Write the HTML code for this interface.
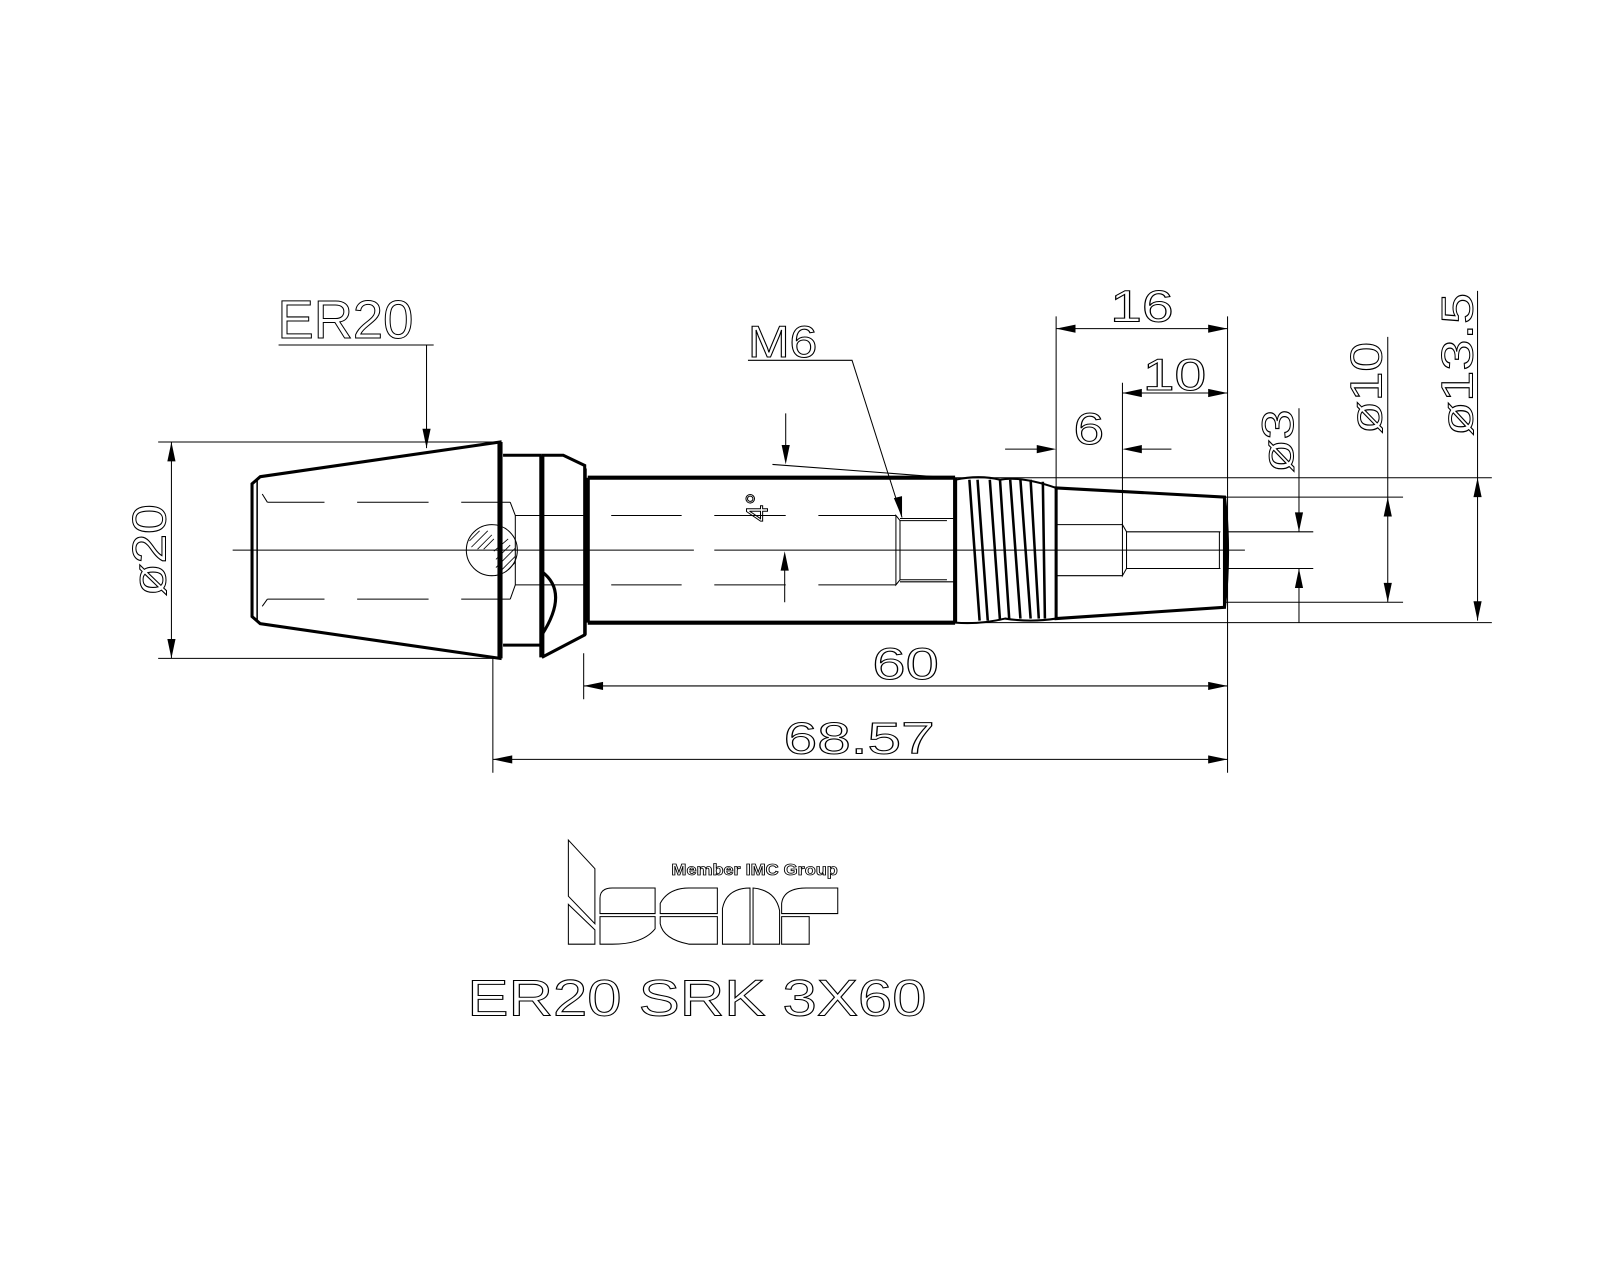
<!DOCTYPE html>
<html><head><meta charset="utf-8"><style>
html,body{margin:0;padding:0;background:#fff;}
svg{display:block;}
text{font-family:"Liberation Sans",sans-serif;}
.t{fill:none;stroke:#000;stroke-width:1;}
</style></head><body>
<svg width="1600" height="1280" viewBox="0 0 1568 1254" preserveAspectRatio="none" xmlns="http://www.w3.org/2000/svg">
<rect width="1568" height="1254" fill="#fff"/>
<g stroke="#000" fill="none">
<!-- centerline -->
<path d="M228 539 H680 M700 539 H1220" stroke-width="1"/>
<!-- cone -->
<path d="M255 467 L490 433 L490 645 L255 611 L247 604 L247 474 Z" stroke-width="3"/>
<path d="M252 470 V608" stroke-width="1.5"/>
<path d="M490 433 V645" stroke-width="5"/>
<!-- dashed in cone -->
<path d="M262 492 H318 M350 492 H420 M452 492 H500 M262 587 H318 M350 587 H420 M452 587 H500" stroke-width="1"/>
<path d="M262 492 L257 484 M262 587 L257 594 M500 492 L505 505 L505 573 L500 587" stroke-width="1"/>
<path d="M505 505 H575 M505 573 H575" stroke-width="1"/>
<!-- neck and collar -->
<path d="M493 446 H531 M493 632 H531" stroke-width="3"/>
<path d="M531 446 V644" stroke-width="5"/>
<path d="M531 446 H552 L573 456 V622 L531 644" stroke-width="3"/>
<path d="M531 560 Q558 580 531 622" stroke-width="3"/>
<path d="M574 459 V622" stroke-width="2"/>
<!-- hatched circle -->
<circle cx="482" cy="539" r="25" stroke-width="1"/>
<g stroke-width="0.8">
<path d="M460 530 L470 520 M462 536 L478 520 M468 538 L482 524 M474 538 L484 528 M484 540 L498 528 M486 548 L500 534 M486 556 L505 537 M492 558 L505 545 M496 560 L505 551"/>
</g>
<!-- shank -->
<path d="M576 468 H936 M576 610 H936 M576 468 V610" stroke-width="4"/>
<path d="M936 468 V610" stroke-width="4"/>
<!-- shank dashed lines -->
<path d="M599 505 H668 M700 505 H770 M802 505 H878 M599 573 H668 M700 573 H770 M802 573 H878" stroke-width="1"/>
<path d="M878 505 L882 510 V568 L878 573 Z" stroke-width="1"/>
<path d="M882 508 H935 M882 570 H935 M882 510 H928 M882 568 H928" stroke-width="1"/>
<!-- threads -->
<path d="M936 470 Q960 465 980 470 Q1000 466 1035 478" stroke-width="2"/>
<path d="M936 610 Q960 612 985 606 Q1010 610 1035 606" stroke-width="2"/>
<path d="M950 470 L960 608 M958 470 L968 608 M970 470 L980 608 M980 470 L989 606 M990 470 L1000 606 M1000 470 L1010 606 M1010 470 L1018 606 M1022 472 L1024 606" stroke-width="2.5"/>
<!-- taper -->
<path d="M1035 478 L1200 487 L1200 595 L1035 606 Z" stroke-width="3"/>
<path d="M1200 487 Q1206 540 1200 595" stroke-width="3"/>
<path d="M1035 514 H1100 M1035 564 H1100 M1100 514 L1104 521 V557 L1100 564 Z" stroke-width="1"/>
<path d="M1104 521 H1196 M1104 557 H1196 M1195 521 V557" stroke-width="1"/>
<!-- ER20 leader -->
<path d="M273 338 H425 M418 338 V439" stroke-width="1"/>
<!-- dia 20 -->
<path d="M155 433 H490 M155 645 H490 M168 433 V645" stroke-width="1"/>
<!-- M6 leader -->
<path d="M733 353 H835 L884 507" stroke-width="1"/>
<!-- 4 deg -->
<path d="M757 455 L930 468" stroke-width="1"/>
<path d="M770 405 V450 M769 590 V545" stroke-width="1"/>
<!-- dim extension lines -->
<path d="M1035 310 V478 M1203 310 V757 M1100 375 V518" stroke-width="1"/>
<path d="M1035 322 H1203 M1100 385 H1203 M985 440 H1030 M1105 440 H1148" stroke-width="1"/>
<path d="M930 468 H1462 M930 610 H1462 M1200 487 H1375 M1200 590 H1375 M1200 521 H1287 M1200 557 H1287" stroke-width="1"/>
<path d="M1273 400 V521 M1273 557 V610 M1360 330 V590 M1448 285 V608" stroke-width="1"/>
<!-- 60 / 68.57 -->
<path d="M572 640 V685 M572 672 H1203 M483 645 V757 M483 744 H1203" stroke-width="1"/>
</g>
<!-- arrowheads -->
<g fill="#000">
<path d="M418 439 L414 420 L422 420 Z"/>
<path d="M168 433 L164 452 L172 452 Z"/>
<path d="M168 645 L164 626 L172 626 Z"/>
<path d="M884 507 L876 488 L884 486 Z"/>
<path d="M770 455 L766 436 L774 436 Z"/>
<path d="M769 540 L765 559 L773 559 Z"/>
<path d="M1035 322 L1054 318 L1054 326 Z"/>
<path d="M1203 322 L1184 318 L1184 326 Z"/>
<path d="M1100 385 L1119 381 L1119 389 Z"/>
<path d="M1203 385 L1184 381 L1184 389 Z"/>
<path d="M1035 440 L1016 436 L1016 444 Z"/>
<path d="M1100 440 L1119 436 L1119 444 Z"/>
<path d="M1273 521 L1269 502 L1277 502 Z"/>
<path d="M1273 557 L1269 576 L1277 576 Z"/>
<path d="M1360 487 L1356 506 L1364 506 Z"/>
<path d="M1360 590 L1356 571 L1364 571 Z"/>
<path d="M1448 468 L1444 487 L1452 487 Z"/>
<path d="M1448 608 L1444 589 L1452 589 Z"/>
<path d="M572 672 L591 668 L591 676 Z"/>
<path d="M1203 672 L1184 668 L1184 676 Z"/>
<path d="M483 744 L502 740 L502 748 Z"/>
<path d="M1203 744 L1184 740 L1184 748 Z"/>
</g>
<!-- texts -->
<g class="t">
<text x="272" y="331" font-size="53" textLength="133" lengthAdjust="spacingAndGlyphs">ER20</text>
<text x="733" y="350" font-size="44" textLength="68" lengthAdjust="spacingAndGlyphs">M6</text>
<text x="1088" y="315" font-size="44" textLength="62" lengthAdjust="spacingAndGlyphs">16</text>
<text x="1120" y="382" font-size="44" textLength="62" lengthAdjust="spacingAndGlyphs">10</text>
<text x="1052" y="435" font-size="44" textLength="30" lengthAdjust="spacingAndGlyphs">6</text>
<text x="855" y="665" font-size="44" textLength="65" lengthAdjust="spacingAndGlyphs">60</text>
<text x="768" y="738" font-size="44" textLength="148" lengthAdjust="spacingAndGlyphs">68.57</text>
<text transform="translate(162,539) rotate(-90)" text-anchor="middle" font-size="46" textLength="90" lengthAdjust="spacingAndGlyphs">ø20</text>
<text transform="translate(1267,432) rotate(-90)" text-anchor="middle" font-size="44" textLength="62" lengthAdjust="spacingAndGlyphs">ø3</text>
<text transform="translate(1354,380) rotate(-90)" text-anchor="middle" font-size="44" textLength="90" lengthAdjust="spacingAndGlyphs">ø10</text>
<text transform="translate(1443,357) rotate(-90)" text-anchor="middle" font-size="44" textLength="140" lengthAdjust="spacingAndGlyphs">ø13.5</text>
<text transform="translate(752,497) rotate(-90)" text-anchor="middle" font-size="30">4°</text>
<text x="458" y="995" font-size="50" textLength="450" lengthAdjust="spacingAndGlyphs">ER20 SRK 3X60</text>
</g>
<!-- logo -->
<g fill="none" stroke="#000" stroke-width="1">
<path d="M557 823 L583 851 V905 L557 878 Z"/>
<path d="M557 886 L583 911 V925 H557 Z"/>
<path d="M588 895 V880 Q588 870 600 870 H642 V895 Z"/>
<path d="M588 898 H642 V910 Q630 925 600 925 H588 Z"/>
<path d="M647 895 V885 Q655 870 675 870 H703 V895 Z"/>
<path d="M647 898 H703 V925 H675 Q650 920 647 905 Z"/>
<path d="M708 925 V890 Q712 870 735 870 V925 Z"/>
<path d="M738 870 Q760 872 764 892 V925 H738 Z"/>
<path d="M766 895 V885 Q768 870 790 870 H821 V895 Z"/>
<path d="M766 898 H793 V925 H766 Z"/>
</g>
<text x="658" y="857" font-size="15.5" font-weight="bold" fill="#fff" stroke="#000" stroke-width="0.8" textLength="163" lengthAdjust="spacingAndGlyphs">Member IMC Group</text>
</svg>
</body></html>
